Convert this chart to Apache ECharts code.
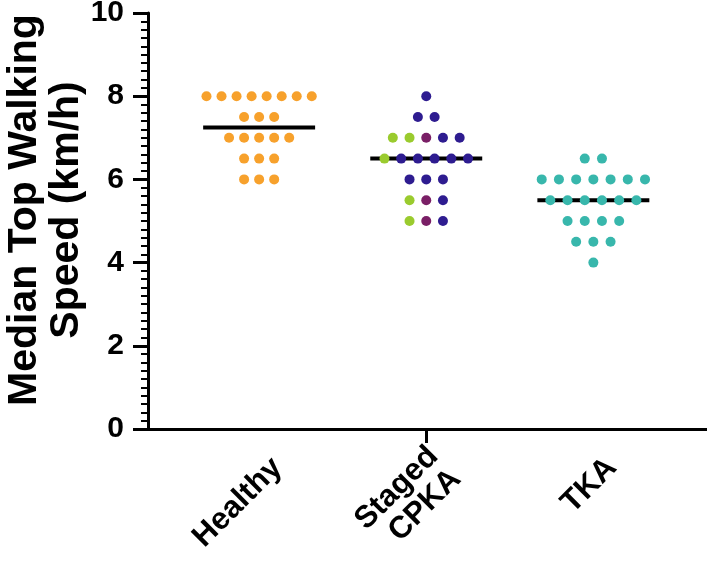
<!DOCTYPE html>
<html>
<head>
<meta charset="utf-8">
<script src="https://cdn.jsdelivr.net/npm/echarts@6/dist/echarts.min.js"></script>
<style>html,body{margin:0;padding:0;background:#fff}#c{width:707px;height:562px}</style>
</head>
<body>
<div id="c"></div>
<script>
// ---- data ----
const categories = ['Healthy', 'Staged\nCPKA', 'TKA'];
const healthy = [8,8,8,8,8,8,8,8,7.5,7.5,7.5,7,7,7,7,7,6.5,6.5,6.5,6,6,6];
const cpkaGreen = [7,7,6.5,5.5,5];
const cpkaPurple = [7,5.5,5];
const cpkaBlue = [8,7.5,7.5,7,7,6.5,6.5,6.5,6.5,6.5,6,6,6,5.5,5];
const tka = [6.5,6.5,6,6,6,6,6,6,6,5.5,5.5,5.5,5.5,5.5,5.5,5,5,5,5,4.5,4.5,4.5,4];
const medians = [7.25, 6.5, 5.5];
const yTicks = [0,2,4,6,8,10];

// ---- styles ----
const colors = {healthy:'#F7A12C', green:'#9ACB2E', purple:'#7A1F66', blue:'#2E1C90', tka:'#38B7AC'};
const spacing = [0.090, 0.100, 0.103];   // horizontal dot spacing per group (axis units)
const halfWidth = 0.335;                  // half-width of median bar
const labelShift = 0.11;                  // rotated label anchor shift
const FONT = 'Liberation Sans, Arial, sans-serif';

function layout(groupIdx, groups) {
  const rows = {};
  groups.forEach(g => g.values.forEach(v => { (rows[v] = rows[v] || []).push(g.key); }));
  const out = {};
  groups.forEach(g => out[g.key] = []);
  Object.keys(rows).forEach(v => {
    const r = rows[v];
    r.sort((a,b) => groups.findIndex(g=>g.key===a) - groups.findIndex(g=>g.key===b));
    r.forEach((k, i) => {
      out[k].push([groupIdx + (i - (r.length - 1) / 2) * spacing[groupIdx], Number(v)]);
    });
  });
  return out;
}

const L0 = layout(0, [{key:'healthy', values:healthy}]);
const L1 = layout(1, [{key:'green', values:cpkaGreen},{key:'purple', values:cpkaPurple},{key:'blue', values:cpkaBlue}]);
const L2 = layout(2, [{key:'tka', values:tka}]);

const series = [];
medians.forEach((m, i) => {
  series.push({type:'line', data:[[i - halfWidth, m],[i + halfWidth, m]], symbol:'none',
    lineStyle:{color:'#000', width:4}, z:1, silent:true, animation:false});
});
function dots(data, color) {
  return {type:'scatter', data, symbol:'circle', symbolSize:10,
    itemStyle:{color, opacity:1}, z:3, animation:false};
}
series.push(dots(L0.healthy, colors.healthy));
series.push(dots(L1.green, colors.green));
series.push(dots(L1.purple, colors.purple));
series.push(dots(L1.blue, colors.blue));
series.push(dots(L2.tka, colors.tka));

const chart = echarts.init(document.getElementById('c'), null, {renderer:'canvas'});
const xMin = -0.665, xMax = 2.68;
chart.setOption({
  animation:false,
  grid:{left:148, right:0, top:13, bottom:133, containLabel:false, outerBoundsMode:'none'},
  xAxis:{type:'value', min:xMin, max:xMax,
    axisLine:{show:true, onZero:false, lineStyle:{color:'#000', width:3}},
    axisTick:{show:true, customValues:[1], length:14, lineStyle:{color:'#000', width:3}},
    axisLabel:{show:true, customValues:categories.map((c,i)=>i+labelShift), rotate:45, margin:34,
      fontFamily:FONT, fontWeight:'bold', fontSize:31, color:'#000', lineHeight:32,
      formatter: v => categories[Math.round(v - labelShift)]},
    splitLine:{show:false}},
  yAxis:{type:'value', min:yTicks[0], max:yTicks[yTicks.length-1], interval:2,
    name:'Median Top Walking\nSpeed (km/h)', nameLocation:'middle', nameRotate:90, nameGap:60,
    nameMoveOverlap:false,
    nameTextStyle:{fontFamily:FONT, fontWeight:'bold', fontSize:41, color:'#000', lineHeight:42,
      padding:[0,0,0,22]},
    axisLine:{show:true, onZero:false, lineStyle:{color:'#000', width:3}},
    axisTick:{show:true, length:15, lineStyle:{color:'#000', width:3}},
    minorTick:{show:true, splitNumber:10, length:7, lineStyle:{color:'#000', width:2}},
    axisLabel:{fontFamily:FONT, fontWeight:'bold', fontSize:30, color:'#000', margin:24},
    splitLine:{show:false}},
  series
});
</script>
</body>
</html>
